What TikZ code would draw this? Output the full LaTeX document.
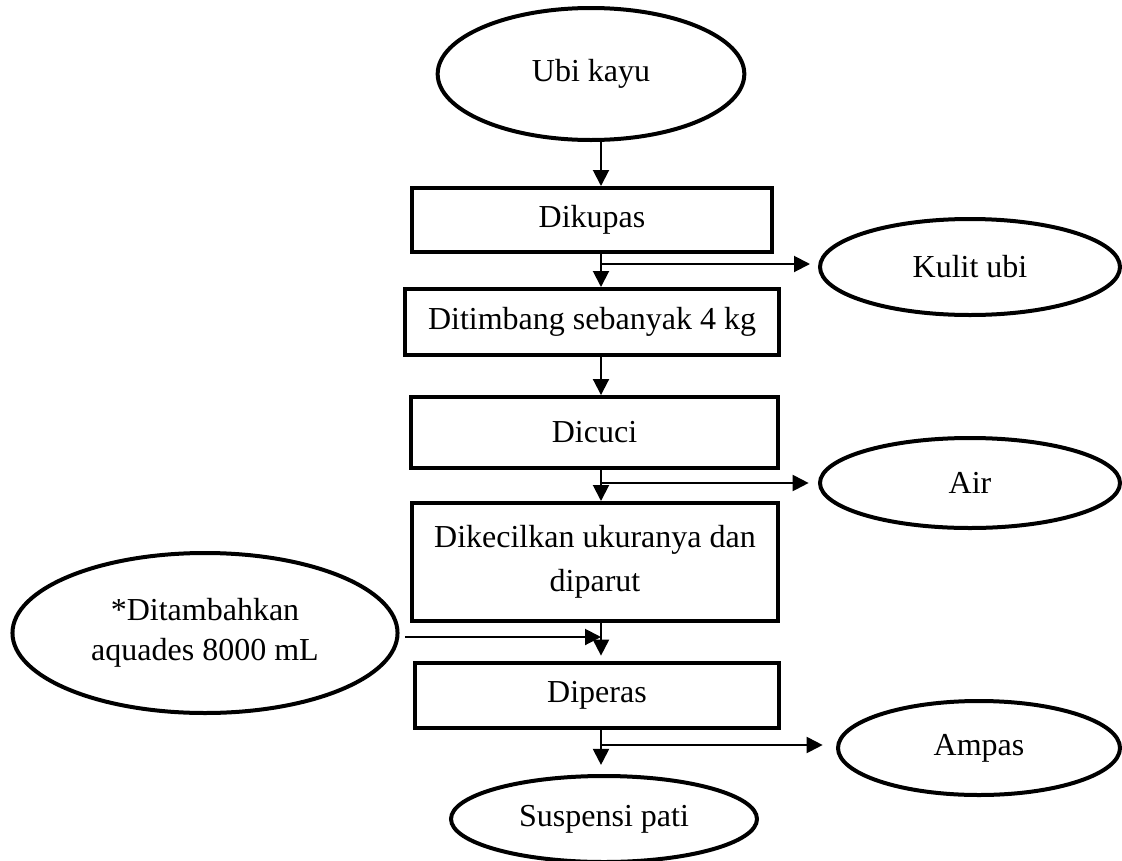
\documentclass[tikz,border=0pt]{standalone}
\usepackage{fontspec}
\setmainfont{Liberation Serif}
\usetikzlibrary{shapes.geometric,arrows.meta}
\tikzset{
    %process steps, inputs/outputs and flow arrows
    prosesbox/.style={draw, line width=1.5pt, rectangle, inner sep=2pt, align=center, font=\fontsize{12}{16.5}\selectfont},
    bahan/.style={draw, line width=1.5pt, ellipse, inner sep=0pt, align=center, font=\fontsize{12}{15}\selectfont},
    alur/.style={line width=0.75pt, -{Triangle[length=6pt,width=6pt]}}
}
\begin{document}
\begin{tikzpicture}[x=0.375pt, y=-0.375pt]
    \useasboundingbox (0,0) rectangle (1122,861);

    \node[bahan, minimum width=115pt, minimum height=49.5pt] (ubi) at (591,74) {Ubi kayu};
    \node[prosesbox, minimum width=135pt, minimum height=24pt] (kupas) at (592,220) {Dikupas};
    \node[prosesbox, minimum width=140pt, minimum height=24.75pt] (timbang) at (592,322) {Ditimbang sebanyak 4 kg};
    \node[prosesbox, minimum width=137.6pt, minimum height=26.6pt] (cuci) at (594.5,432.5) {Dicuci};
    \node[prosesbox, minimum width=137.25pt, minimum height=44.25pt] (kecil) at (595,562) {Dikecilkan ukuranya dan\\diparut};
    \node[prosesbox, minimum width=136.5pt, minimum height=24.4pt] (peras) at (597,695.5) {Diperas};
    \node[bahan, minimum width=114.75pt, minimum height=32.25pt] (suspensi) at (604,819) {Suspensi pati};

    \node[bahan, minimum width=112.5pt, minimum height=36pt] (kulit) at (970,267) {Kulit ubi};
    \node[bahan, minimum width=112.5pt, minimum height=33.75pt] (air) at (970,483) {Air};
    \node[bahan, minimum width=144.4pt, minimum height=60pt] (tambah) at (205,633) {*Ditambahkan\\aquades 8000 mL};
    \node[bahan, minimum width=105.75pt, minimum height=35.25pt] (ampas) at (979,748) {Ampas};

    \coordinate (col) at (601,0);
    \coordinate (k1) at (601,264);
    \coordinate (a1) at (601,483);
    \coordinate (t1) at (601,637);
    \coordinate (p1) at (601,745);

    % main line
    \draw[alur] (ubi.south -| col) -- (kupas.north -| col);
    \draw[alur] (kupas.south -| col) -- (timbang.north -| col);
    \draw[alur] (timbang.south -| col) -- (cuci.north -| col);
    \draw[alur] (cuci.south -| col) -- (kecil.north -| col);
    \draw[alur, shorten >=2pt] (kecil.south -| col) -- (peras.north -| col);
    \draw[alur, shorten >=3.4pt] (peras.south -| col) -- (suspensi.north -| col);

    % side streams
    \draw[alur, shorten >=3pt] (k1) -- (kulit.west |- k1);
    \draw[alur, shorten >=3.5pt] (a1) -- (air.west |- a1);
    \draw[alur, shorten <=2pt] (tambah.east |- t1) -- (t1);
    \draw[alur, shorten >=5pt] (p1) -- (ampas.west |- p1);
\end{tikzpicture}
\end{document}
